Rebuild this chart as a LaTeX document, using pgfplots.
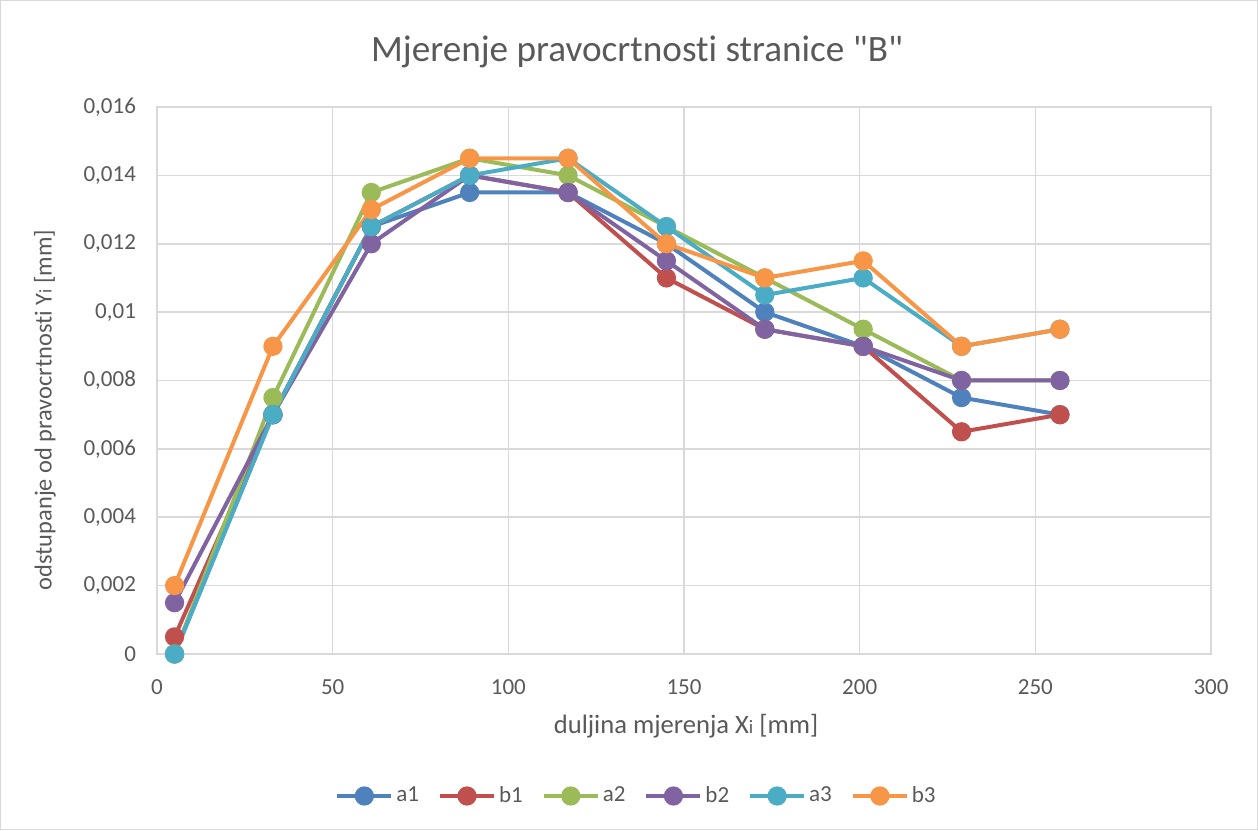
\documentclass[border=0pt]{standalone}
\usepackage{pgfplots}
\pgfplotsset{compat=1.18}
\usepackage{fontspec}
\setmainfont{Carlito}[Ligatures={TeXOff,NoCommon}]
\definecolor{txt}{HTML}{595959}
\definecolor{gridc}{HTML}{D9D9D9}
\definecolor{ca1}{HTML}{4F81BD}
\definecolor{cb1}{HTML}{C0504D}
\definecolor{ca2}{HTML}{9BBB59}
\definecolor{cb2}{HTML}{8064A2}
\definecolor{ca3}{HTML}{4BACC6}
\definecolor{cb3}{HTML}{F79646}
\begin{document}
\begin{tikzpicture}
\draw[gridc, line width=0.6pt] (0.3pt,0.3pt) rectangle (628.7pt,414.7pt);
\begin{axis}[
  at={(78.5pt,88pt)}, anchor=south west,
  scale only axis, width=527pt, height=273.5pt,
  xmin=0, xmax=300, ymin=0, ymax=0.016,
  xtick={0,50,...,300},
  ytick={0,0.002,...,0.016},
  scaled y ticks=false,
  /pgf/number format/.cd, use comma, fixed, precision=3, assume math mode=true,
  /pgfplots/.cd,
  grid=major, major grid style={gridc, line width=0.8pt},
  axis line style={gridc, line width=0.8pt},
  major tick length=0pt,
  tick label style={font=\fontsize{11.5}{13}\selectfont, text=txt},
  yticklabel style={xshift=-7pt},
  xticklabel style={yshift=-9.5pt},
  every axis plot/.append style={line width=2pt, mark=*, mark size=3.8pt, mark options={solid}},
  legend columns=6,
  legend style={at={(0.4554,-0.2596)}, anchor=center, draw=none, fill=none,
    font=\fontsize{11.5}{13}\selectfont, text=txt,
    nodes={inner xsep=1.5pt},
    /tikz/every even column/.append style={column sep=8pt}},
  legend image code/.code={\draw[mark repeat=2, mark phase=2] plot coordinates {(0pt,0pt)(13.5pt,0pt)(27pt,0pt)};},
]
\addplot[ca1, mark options={fill=ca1}] coordinates {(5,0) (33,0.007) (61,0.0125) (89,0.0135) (117,0.0135) (145,0.012) (173,0.010) (201,0.009) (229,0.0075) (257,0.007)};
\addlegendentry{a1}
\addplot[cb1, mark options={fill=cb1}] coordinates {(5,0.0005) (33,0.007) (61,0.0125) (89,0.014) (117,0.0135) (145,0.011) (173,0.0095) (201,0.009) (229,0.0065) (257,0.007)};
\addlegendentry{b1}
\addplot[ca2, mark options={fill=ca2}] coordinates {(5,0) (33,0.0075) (61,0.0135) (89,0.0145) (117,0.014) (145,0.0125) (173,0.011) (201,0.0095) (229,0.008) (257,0.008)};
\addlegendentry{a2}
\addplot[cb2, mark options={fill=cb2}] coordinates {(5,0.0015) (33,0.007) (61,0.012) (89,0.014) (117,0.0135) (145,0.0115) (173,0.0095) (201,0.009) (229,0.008) (257,0.008)};
\addlegendentry{b2}
\addplot[ca3, mark options={fill=ca3}] coordinates {(5,0) (33,0.007) (61,0.0125) (89,0.014) (117,0.0145) (145,0.0125) (173,0.0105) (201,0.011) (229,0.009) (257,0.0095)};
\addlegendentry{a3}
\addplot[cb3, mark options={fill=cb3}] coordinates {(5,0.002) (33,0.009) (61,0.013) (89,0.0145) (117,0.0145) (145,0.012) (173,0.011) (201,0.0115) (229,0.009) (257,0.0095)};
\addlegendentry{b3}
\end{axis}
\node[text=txt, font=\fontsize{18.6}{22}\selectfont] at (318.5pt,389pt) {Mjerenje pravocrtnosti stranice "B"};
\node[text=txt, font=\fontsize{12.2}{15}\selectfont, rotate=90] at (22.5pt,210pt) {odstupanje od pravocrtnosti Y{\fontsize{9}{10}\selectfont i} [mm]};
\node[text=txt, font=\fontsize{13.3}{16}\selectfont] at (343pt,52pt) {duljina mjerenja X{\fontsize{9.5}{10}\selectfont i} [mm]};
\end{tikzpicture}
\end{document}
